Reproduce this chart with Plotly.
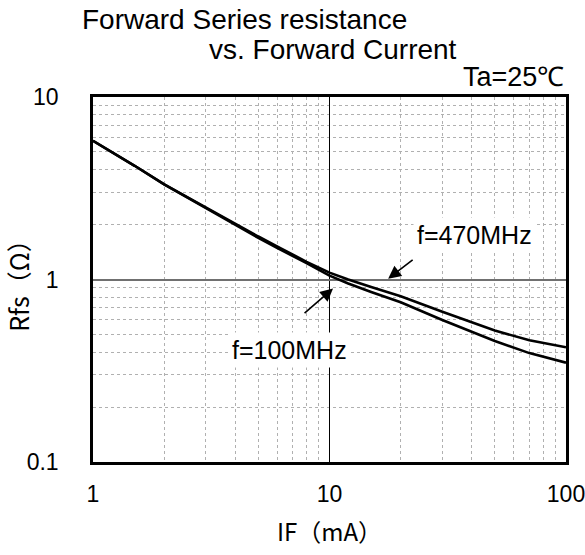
import numpy as np
import plotly.graph_objects as go

# Data
if_ma = [1, 1.5, 2, 3, 4, 5, 6, 7, 8, 10, 12, 15, 20, 30, 40, 50, 70, 100]
rfs_470 = [5.75, 4.20, 3.32, 2.48, 2.00, 1.72, 1.52, 1.37, 1.25, 1.09, 1.00, 0.91, 0.81, 0.665, 0.58, 0.525, 0.465, 0.425]
rfs_100 = [5.75, 4.20, 3.32, 2.46, 1.98, 1.69, 1.49, 1.35, 1.23, 1.05, 0.95, 0.855, 0.75, 0.60, 0.515, 0.46, 0.395, 0.35]

x_ticks = [1, 10, 100]
x_ticklabels = ["1", "10", "100"]
y_ticks = [0.1, 1, 10]
y_ticklabels = ["0.1", "1", "10"]

label_470 = "f=470MHz"
label_100 = "f=100MHz"

fig = go.Figure()
for ys, name in [(rfs_470, label_470), (rfs_100, label_100)]:
    fig.add_trace(go.Scatter(x=if_ma, y=ys, mode="lines", name=name,
                             line=dict(color="black", width=2.6),
                             showlegend=False))

FONT = "Liberation Sans, Arial, sans-serif"
JFONT = "Noto Sans CJK JP, sans-serif"
L = np.log10

fig.update_layout(
    width=585, height=555,
    margin=dict(l=93, r=19, t=97, b=93, autoexpand=False),
    paper_bgcolor="white", plot_bgcolor="white",
    font=dict(family=FONT, color="black", size=22),
)

fig.update_xaxes(
    type="log", range=[0, 2], automargin=False,
    tickvals=x_ticks, ticktext=x_ticklabels,
    tickfont=dict(size=23, family=FONT),
    ticks="", ticklabelstandoff=10, ticklabeloverflow="allow",
    showline=True, linewidth=2.5, linecolor="black", mirror=True,
    showgrid=True, gridcolor="black", gridwidth=1,
    minor=dict(tickvals=[2, 3, 4, 5, 6, 7, 8, 9, 20, 30, 40, 50, 60, 70, 80, 90],
               showgrid=True, gridcolor="#b0b0b0", griddash="dot", gridwidth=1),
    title=dict(text="IF（mA）", font=dict(family=JFONT, size=24), standoff=18),
    zeroline=False,
)
fig.update_yaxes(
    type="log", range=[-1, 1], automargin=False,
    tickvals=y_ticks, ticktext=y_ticklabels,
    tickfont=dict(size=23, family=FONT),
    ticks="", ticklabelstandoff=27, ticklabeloverflow="allow",
    showline=True, linewidth=2.5, linecolor="black", mirror=True,
    showgrid=True, gridcolor="#707070", gridwidth=2,
    minor=dict(tickvals=[0.2, 0.3, 0.4, 0.5, 0.6, 0.7, 0.8, 0.9, 2, 3, 4, 5, 6, 7, 8, 9],
               showgrid=True, gridcolor="#b0b0b0", griddash="dot", gridwidth=1),
    title=dict(text="Rfs（Ω）", font=dict(family=JFONT, size=25), standoff=8),
    zeroline=False,
)

annotations = [
    dict(text="Forward Series resistance", x=-0.0275, y=1.2126, xref="paper", yref="paper",
         xanchor="left", yanchor="middle", showarrow=False, font=dict(size=28)),
    dict(text="vs. Forward Current", x=0.241, y=1.130, xref="paper", yref="paper",
         xanchor="left", yanchor="middle", showarrow=False, font=dict(size=28)),
    dict(text="Ta=25℃", x=1.0, y=1.056, xref="paper", yref="paper",
         xanchor="right", yanchor="middle", showarrow=False, font=dict(size=27)),
    dict(text=label_470, x=L(41), y=L(1.76), xref="x", yref="y", showarrow=False,
         bgcolor="white", font=dict(size=25), borderpad=3),
    dict(text=label_100, x=L(6.8), y=L(0.413), xref="x", yref="y", showarrow=False,
         bgcolor="white", font=dict(size=25), borderpad=3),
    dict(text="", x=L(17.7), y=L(1.01), ax=L(22.8), ay=L(1.30), xref="x", yref="y",
         axref="x", ayref="y", showarrow=True, arrowhead=2, arrowsize=1.6,
         arrowwidth=1.6, arrowcolor="black"),
    dict(text="", x=L(10.35), y=L(0.893), ax=L(7.73), ay=L(0.643), xref="x", yref="y",
         axref="x", ayref="y", showarrow=True, arrowhead=2, arrowsize=1.6,
         arrowwidth=1.6, arrowcolor="black"),
]
fig.update_layout(annotations=annotations)

fig.write_html("out.html", config={"displayModeBar": False},
               post_script="document.body.style.margin='0';document.body.style.overflow='hidden';")
